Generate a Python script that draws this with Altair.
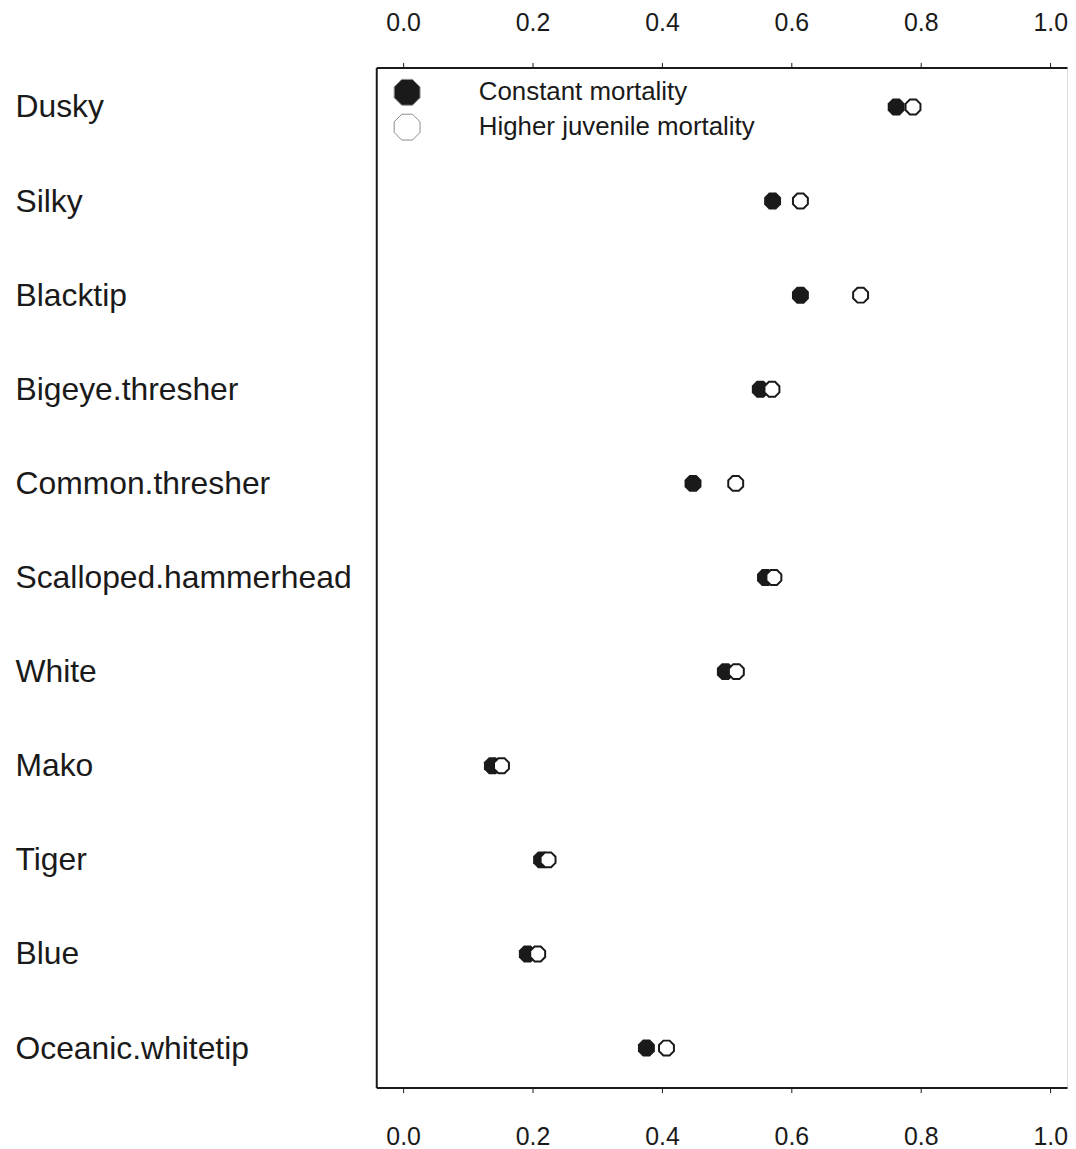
import altair as alt
import pandas as pd

species = ["Dusky", "Silky", "Blacktip", "Bigeye.thresher", "Common.thresher",
           "Scalloped.hammerhead", "White", "Mako", "Tiger", "Blue", "Oceanic.whitetip"]
constant = [0.762, 0.571, 0.614, 0.552, 0.448, 0.560, 0.498, 0.138, 0.214, 0.192, 0.376]
higher = [0.788, 0.614, 0.707, 0.570, 0.514, 0.573, 0.515, 0.152, 0.224, 0.208, 0.407]
series_names = ["Constant mortality", "Higher juvenile mortality"]
tick_values = [0.0, 0.2, 0.4, 0.6, 0.8, 1.0]

rows = []
for s, c, h in zip(species, constant, higher):
    rows.append({"species": s, "series": series_names[0], "value": c})
    rows.append({"species": s, "series": series_names[1], "value": h})
df = pd.DataFrame(rows)

INK = "#1a1a1a"
FONT = "Liberation Sans"
octagon = ("M-0.383,-0.924L0.383,-0.924L0.924,-0.383L0.924,0.383L0.383,0.924"
           "L-0.383,0.924L-0.924,0.383L-0.924,-0.383Z")

xscale = alt.Scale(domain=[-0.0415, 1.026], nice=False, zero=False)

def xaxis(orient, pad):
    return alt.Axis(orient=orient, values=tick_values, format=".1f", title=None,
                    tickSize=5, tickColor=INK, tickWidth=1, labelFontSize=25,
                    labelPadding=pad, labelFont=FONT, labelColor=INK,
                    domainColor=INK, domainWidth=2, grid=False, labelFlush=False)

yenc = alt.Y("species:N", sort=species, scale=alt.Scale(padding=0.42),
             axis=alt.Axis(title=None, orient="left", labelAlign="left",
                           labelBaseline="middle", labelPadding=363, ticks=False,
                           tickSize=0, labelFontSize=32, labelLimit=600,
                           labelFont=FONT, labelColor=INK, domainColor=INK,
                           domainWidth=2, grid=False))

fill = alt.Fill("series:N",
                scale=alt.Scale(domain=series_names, range=[INK, "#ffffff"]),
                legend=alt.Legend(title=None, orient="none", legendX=16, legendY=10,
                                  symbolType=octagon, symbolSize=790,
                                  symbolStrokeColor="#8c8c8c", symbolStrokeWidth=1,
                                  labelFontSize=26, labelFont=FONT, labelColor=INK,
                                  labelLimit=0, labelOffset=57, rowPadding=5,
                                  padding=0))

filled = alt.Chart(df).transform_filter(
    alt.datum.series == series_names[0]
).mark_point(shape=octagon, filled=True, size=338, opacity=1, strokeWidth=0).encode(
    x=alt.X("value:Q", scale=xscale, axis=xaxis("top", 27)),
    y=yenc,
    fill=fill,
)

opened = alt.Chart(df).transform_filter(
    alt.datum.series == series_names[1]
).mark_point(shape=octagon, filled=True, size=263, opacity=1,
             stroke=INK, strokeWidth=2).encode(
    x=alt.X("value:Q", scale=xscale, axis=xaxis("bottom", 32)),
    y=yenc,
    fill=fill,
)

chart = alt.layer(filled, opened).resolve_axis(x="independent").properties(
    width=694, height=1025,
    padding={"left": 7, "top": 0, "right": 0, "bottom": 0},
).configure_view(stroke=None).configure(font=FONT)

chart.save("out.html", embed_options={"renderer": "svg", "actions": False})
